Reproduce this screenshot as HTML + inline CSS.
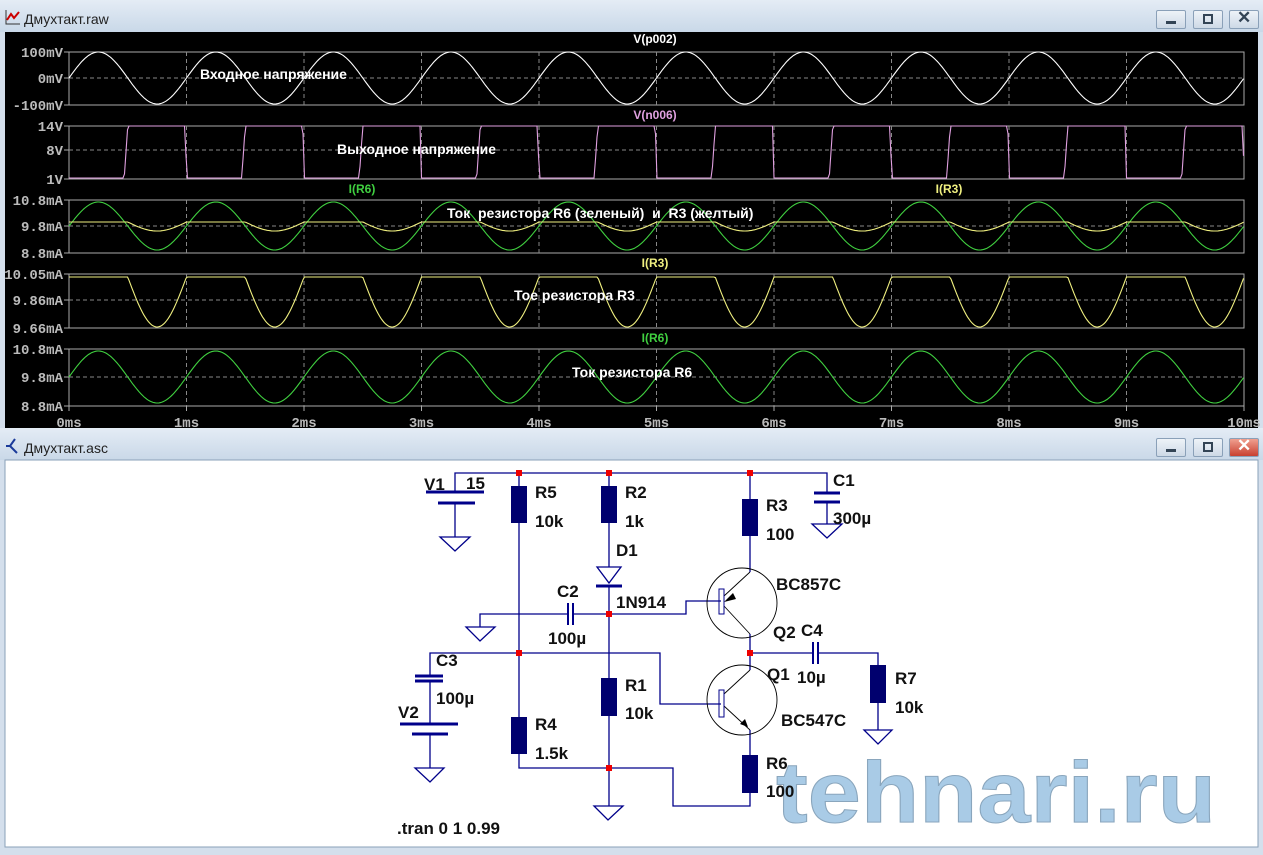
<!DOCTYPE html>
<html><head><meta charset="utf-8">
<style>
html,body{margin:0;padding:0;}
body{width:1263px;height:855px;overflow:hidden;background:#d4dfec;position:relative;font-family:"Liberation Sans","Noto Sans CJK SC",sans-serif;}
.tb{position:absolute;left:0;width:1263px;height:32px;background:linear-gradient(#e4ecf5,#c9d8e8);}
.tt{position:absolute;font-size:14px;color:#222;}
.btn{position:absolute;width:30px;height:19px;border:1px solid #8aa0b8;border-radius:2px;background:linear-gradient(#eef3f8,#cdd9e6);box-sizing:border-box;}
svg text{white-space:pre;}
</style></head><body>
<div class="tb" style="top:0"></div>
<div class="tt" style="left:24px;top:11px">Дмухтакт.raw</div>
<svg style="position:absolute;left:5px;top:9px" width="16" height="16"><path d="M1 1V15H15" stroke="#333" fill="none"/><path d="M2 11L6 5L9 9L14 3" stroke="#c00" stroke-width="2" fill="none"/></svg>
<div class="btn" style="left:1156px;top:10px"></div><div style="position:absolute;left:1166px;top:21px;width:10px;height:3px;background:#345"></div>
<div class="btn" style="left:1193px;top:10px"></div><div style="position:absolute;left:1203px;top:14px;width:6px;height:6px;border:2px solid #345"></div>
<div class="btn" style="left:1229px;top:10px"></div><div style="position:absolute;left:1237px;top:8px;font-size:17px;color:#345;font-weight:bold">✕</div>

<svg style="position:absolute;left:0;top:32px" width="1263" height="396" id="plot">
<rect x="5" y="0" width="1253" height="396" fill="#000"/>
</svg>

<div class="tb" style="top:428px"></div>
<div class="tt" style="left:24px;top:440px">Дмухтакт.asc</div>
<svg style="position:absolute;left:5px;top:437px" width="16" height="18"><path d="M10 2L5 9L12 16M5 9H1" stroke="#1a3a9a" stroke-width="2" fill="none"/></svg>
<div class="btn" style="left:1156px;top:438px"></div><div style="position:absolute;left:1166px;top:449px;width:10px;height:3px;background:#345"></div>
<div class="btn" style="left:1193px;top:438px"></div><div style="position:absolute;left:1203px;top:442px;width:6px;height:6px;border:2px solid #345"></div>
<div class="btn" style="left:1229px;top:438px;background:linear-gradient(#f0a090,#c84030)"></div><div style="position:absolute;left:1237px;top:436px;font-size:17px;color:#fff;font-weight:bold">✕</div>

<svg style="position:absolute;left:0;top:0" width="1263" height="855">
<rect x="5" y="460" width="1253" height="387" fill="#fff" stroke="#8aa0b8"/>
<text x="776" y="822" font-size="86" font-weight="bold" fill="#a9cbe6" stroke="#8aa6bd" stroke-width="1" textLength="440" lengthAdjust="spacingAndGlyphs" font-family="Liberation Sans,sans-serif">tehnari.ru</text>
<g stroke="#00008a" stroke-width="1.3" fill="none">
<path d="M455 492V473H827V493M827 502V524"/>
<path d="M455 503V537"/>
<path d="M519 473V717M519 754V768H673V806H750V793"/>
<path d="M609 473V567M609 586V678M609 716V806"/>
<path d="M750 473V572M750 634V670M750 730V755"/>
<path d="M609 614H686V601H721M609 614H573M568 614H480V627"/>
<path d="M430 676V653H660V704H721"/>
<path d="M430 681V724M430 734V768"/>
<path d="M750 653H813M818 653H878V665M878 703V730"/>
<circle cx="742" cy="603" r="35" stroke="#000" stroke-width="0.9"/>
<circle cx="742" cy="700" r="35" stroke="#000" stroke-width="0.9"/>
<path d="M724 596L750 572M724 606L750 634M724 694L750 670M724 706L750 730" stroke="#000" stroke-width="0.9"/>
<path d="M440 537H470L455 551Z M466 627H495L480 641Z M594 806H623L608 820Z M415 768H444L430 782Z M812 524H842L827 538Z M864 730H892L878 744Z"/>
<path d="M597 567H621L609 583Z"/>
</g>
<g fill="#000"><path d="M724 602L733 593L736 599Z"/><path d="M748 727L740 724L745 719Z"/></g>
<g stroke="#00008a" fill="none" stroke-width="1"><rect x="719" y="589" width="5" height="25"/><rect x="719" y="690" width="5" height="27"/></g>
<g stroke="#00008a" stroke-width="3">
<path d="M426 492H484M438 503H475M814 493H840M814 502H840M596 586H622"/>
<path d="M400 724H458M412 734H448M415 676H443M415 681H443"/>
</g>
<g stroke="#00008a" stroke-width="2"><path d="M568 603V625M573 603V625M813 642V664M818 642V664"/></g>
<g fill="#00006e">
<rect x="511" y="486" width="16" height="37"/><rect x="601" y="486" width="16" height="37"/>
<rect x="742" y="499" width="16" height="37"/><rect x="601" y="678" width="16" height="38"/>
<rect x="511" y="717" width="16" height="37"/><rect x="742" y="755" width="16" height="38"/>
<rect x="870" y="665" width="16" height="38"/>
</g>
<g fill="#e00"><rect x="516" y="470" width="6" height="6"/><rect x="606" y="470" width="6" height="6"/><rect x="747" y="470" width="6" height="6"/><rect x="606" y="611" width="6" height="6"/><rect x="516" y="650" width="6" height="6"/><rect x="747" y="650" width="6" height="6"/><rect x="606" y="765" width="6" height="6"/></g>
<g font-size="17" font-weight="bold" fill="#111">
<text x="424" y="490">V1</text><text x="466" y="489">15</text>
<text x="535" y="498">R5</text><text x="535" y="527">10k</text>
<text x="625" y="498">R2</text><text x="625" y="527">1k</text>
<text x="616" y="556">D1</text><text x="616" y="608">1N914</text>
<text x="766" y="511">R3</text><text x="766" y="540">100</text>
<text x="833" y="486">C1</text><text x="833" y="524">300µ</text>
<text x="776" y="590">BC857C</text>
<text x="557" y="597">C2</text><text x="548" y="644">100µ</text>
<text x="773" y="638">Q2</text><text x="801" y="636">C4</text>
<text x="436" y="666">C3</text><text x="436" y="704">100µ</text>
<text x="767" y="680">Q1</text><text x="797" y="683">10µ</text>
<text x="625" y="691">R1</text><text x="625" y="719">10k</text>
<text x="398" y="718">V2</text>
<text x="895" y="684">R7</text><text x="895" y="713">10k</text>
<text x="781" y="726">BC547C</text>
<text x="535" y="730">R4</text><text x="535" y="759">1.5k</text>
<text x="766" y="769">R6</text><text x="766" y="797">100</text>
<text x="397" y="834">.tran 0 1 0.99</text>
</g>
</svg>
<script>
(function(){
var s=document.getElementById('plot'),NS='http://www.w3.org/2000/svg';
function el(t,a,txt){var e=document.createElementNS(NS,t);for(var k in a)e.setAttribute(k,a[k]);if(txt)e.textContent=txt;s.appendChild(e);return e;}
var X0=69,X1=1244,oy=-32;
var panels=[[52,78,105,['100mV','0mV','-100mV']],[126,150,179,['14V','8V','1V']],[200,226,253,['10.8mA','9.8mA','8.8mA']],[274,300,328,['10.05mA','9.86mA','9.66mA']],[349,377,406,['10.8mA','9.8mA','8.8mA']]];
panels.forEach(function(p){
 var t=p[0]+oy,m=p[1]+oy,b=p[2]+oy;
 el('rect',{x:X0,y:t,width:X1-X0,height:b-t,fill:'none',stroke:'#aaa'});
 el('line',{x1:X0,y1:m,x2:X1,y2:m,stroke:'#888','stroke-dasharray':'4,3'});
 for(var i=1;i<10;i++){var x=X0+i*117.5;el('line',{x1:x,y1:t,x2:x,y2:b,stroke:'#888','stroke-dasharray':'4,3'});}
 [t,m,b].forEach(function(y,j){el('line',{x1:X0-5,y1:y,x2:X0,y2:y,stroke:'#aaa'});
 el('text',{x:X0-6,y:y+5,'text-anchor':'end','font-size':14,'font-weight':'bold',fill:'#bbb','font-family':'Liberation Mono,monospace'},p[3][j]);});
});
for(var i=0;i<=10;i++){var x=X0+i*117.5;el('line',{x1:x,y1:406+oy,x2:x,y2:411+oy,stroke:'#aaa'});el('text',{x:x,y:427+oy,'text-anchor':'middle','font-size':14,'font-weight':'bold',fill:'#bbb','font-family':'Liberation Mono,monospace'},i+'ms');}
function tr(f,col){var d='';for(var i=0;i<=1175;i+=1.5){var ph=(i/117.5)%1;d+=(i?'L':'M')+(X0+i).toFixed(1)+' '+(f(ph)+oy).toFixed(1);}el('path',{d:d,fill:'none',stroke:col,'stroke-width':1.1});}
var S=function(ph){return Math.sin(2*Math.PI*ph);};
tr(function(ph){return 78-26*S(ph);},'#fff');
tr(function(ph){if(ph<0.47)return 178;if(ph<0.5)return 178-(ph-0.47)/0.03*52;if(ph<0.99)return 126;return 126+(ph-0.99)/0.01*52;},'#e0a0e0');
tr(function(ph){return 226-24*S(ph);},'#40d040');
tr(function(ph){return ph<0.5?222:222+(-S(ph))*9;},'#f0f080');
tr(function(ph){return ph<0.5?277:277+(-S(ph))*50;},'#f0f080');
tr(function(ph){return 377-26*S(ph);},'#40d040');
var L=[[655,43,'V(p002)','#fff',12,0],[200,79,'Входное напряжение','#fff',14,1],[655,119,'V(n006)','#e0a0e0',12,0],[337,154,'Выходное напряжение','#fff',14,1],[362,193,'I(R6)','#40d040',12,0],[949,193,'I(R3)','#f0f080',12,0],[447,218,'Ток  резистора R6 (зеленый)  и  R3 (желтый)','#fff',14,1],[655,267,'I(R3)','#f0f080',12,0],[514,300,'Тое резистора R3','#fff',14,1],[655,342,'I(R6)','#40d040',12,0],[572,377,'Ток резистора R6','#fff',14,1]];
L.forEach(function(l){el('text',{x:l[0],y:l[1]+oy,'text-anchor':l[5]?'start':'middle','font-size':l[4],'font-weight':'bold',fill:l[3],'font-family':'Liberation Sans,sans-serif'},l[2]);});
})();
</script>
</body></html>
